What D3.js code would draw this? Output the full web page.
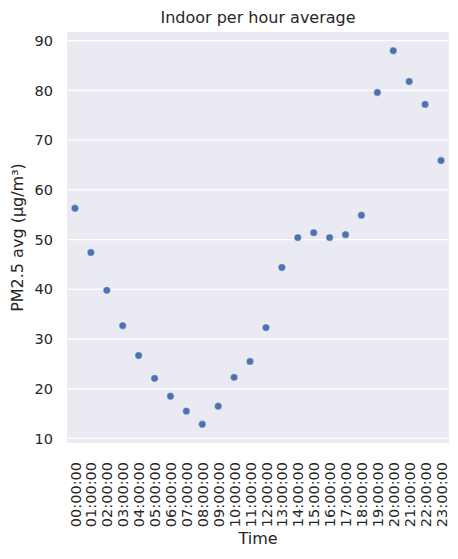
<!DOCTYPE html>
<html lang="en">
<head>
  <meta charset="UTF-8">
  <title>Indoor per hour average</title>
  <script src="https://d3js.org/d3.v7.min.js"></script>
  <style>
    body { margin: 0; background: #fff; }
    svg text { font-family: "DejaVu Sans", sans-serif; }
    .tick text { fill: #262626; font-size: 14.5px; }
    .axis-label { fill: #262626; font-size: 16px; }
    .title { fill: #262626; font-size: 16px; }
  </style>
</head>
<body>
  <svg id="chart" width="458" height="559"></svg>

  <script>
    // Hours of the day (categories)
    const hours = [
      "00:00:00", "01:00:00", "02:00:00", "03:00:00", "04:00:00", "05:00:00",
      "06:00:00", "07:00:00", "08:00:00", "09:00:00", "10:00:00", "11:00:00",
      "12:00:00", "13:00:00", "14:00:00", "15:00:00", "16:00:00", "17:00:00",
      "18:00:00", "19:00:00", "20:00:00", "21:00:00", "22:00:00", "23:00:00"
    ];

    // PM2.5 average per hour
    const pm25 = [
      56.3, 47.4, 39.8, 32.7, 26.7, 22.1,
      18.5, 15.5, 12.85, 16.5, 22.3, 25.5,
      32.3, 44.4, 50.4, 51.4, 50.4, 51.0,
      54.9, 79.6, 88.0, 81.8, 77.2, 65.9
    ];

    const yTicks = [10, 20, 30, 40, 50, 60, 70, 80, 90];

    const margin = { top: 32, right: 9, bottom: 116, left: 67 };
    const width = 458 - margin.left - margin.right;
    const height = 559 - margin.top - margin.bottom;

    const svg = d3.select("#chart")
      .append("g")
      .attr("transform", "translate(" + margin.left + "," + margin.top + ")");

    // Axes background
    svg.append("rect")
      .attr("width", width)
      .attr("height", height)
      .attr("fill", "#EAEAF2");

    // Categorical x scale, like seaborn (-0.5 .. n-0.5)
    const xScale = d3.scalePoint()
      .domain(hours)
      .range([0, width])
      .padding(0.5);

    // y domain with 5% padding around the data
    const lo = d3.min(pm25), hi = d3.max(pm25);
    const pad = (hi - lo) * 0.05;
    const yScale = d3.scaleLinear()
      .domain([lo - pad, hi + pad])
      .range([height, 0]);

    // Grid lines
    svg.append("g")
      .selectAll("line")
      .data(yTicks)
      .enter()
      .append("line")
      .attr("x1", 0)
      .attr("x2", width)
      .attr("y1", (d) => yScale(d))
      .attr("y2", (d) => yScale(d))
      .attr("stroke", "#fff")
      .attr("stroke-width", 1.25);

    // y axis
    const yAxis = svg.append("g")
      .call(d3.axisLeft(yScale).tickValues(yTicks).tickSize(0).tickPadding(14));
    yAxis.select(".domain").remove();

    // x axis with rotated labels
    const xAxis = svg.append("g")
      .attr("transform", "translate(0," + height + ")")
      .call(d3.axisBottom(xScale).tickSize(0));
    xAxis.select(".domain").remove();
    xAxis.selectAll(".tick text")
      .attr("transform", "rotate(-90)")
      .attr("text-anchor", "end")
      .attr("x", -19)
      .attr("y", 0)
      .attr("dy", "0.35em");

    // Points
    svg.selectAll(".dot")
      .data(pm25)
      .enter()
      .append("circle")
      .attr("class", "dot")
      .attr("cx", (d, i) => xScale(hours[i]))
      .attr("cy", (d) => yScale(d))
      .attr("r", 3.7)
      .attr("fill", "#4C72B0")
      .attr("stroke", "#fff")
      .attr("stroke-width", 0.4);

    // Title
    svg.append("text")
      .attr("class", "title")
      .attr("x", width / 2)
      .attr("y", -9)
      .style("text-anchor", "middle")
      .text("Indoor per hour average");

    // x-axis label
    svg.append("text")
      .attr("class", "axis-label")
      .attr("x", width / 2)
      .attr("y", height + 101)
      .style("text-anchor", "middle")
      .text("Time");

    // y-axis label
    svg.append("text")
      .attr("class", "axis-label")
      .attr("transform", "rotate(-90)")
      .attr("x", -(height / 2))
      .attr("y", -margin.left + 23)
      .style("text-anchor", "middle")
      .text("PM2.5 avg (μg/m³)");
  </script>
</body>
</html>
